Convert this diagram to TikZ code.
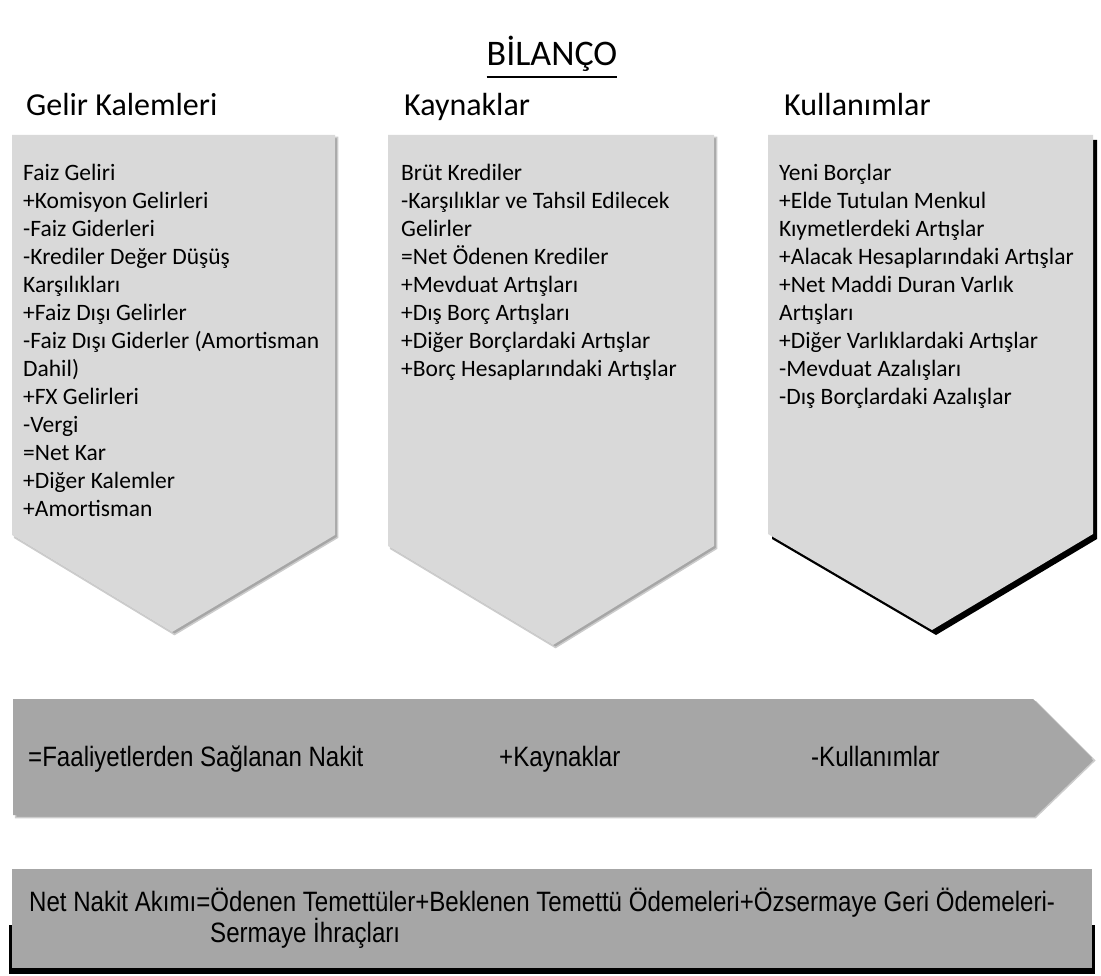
\documentclass[tikz,border=0pt]{standalone}
\usepackage{fontspec}
\usepackage{xcolor}
\newfontfamily\calfont{Carlito}
\newfontfamily\arialfont[FakeStretch=0.86]{Liberation Sans}
\definecolor{lightpanel}{HTML}{D9D9D9}
\definecolor{darkpanel}{HTML}{A6A6A6}

\begin{document}
\begin{tikzpicture}[x=1pt, y=-1pt,
    softshadow/.style={fill=gray!70, draw=gray!40, line width=1.5pt, shift={(2.5,2.5)}},
    hardshadow/.style={fill=black, shift={(4,5)}},
    titletext/.style={anchor=base, inner sep=0pt, font=\calfont\fontsize{36}{40}\selectfont},
    headtext/.style={anchor=base west, inner sep=0pt, font=\calfont\fontsize{32}{36}\selectfont},
    listtext/.style={anchor=north west, align=left, inner sep=0pt, font=\calfont\fontsize{23.5}{28}\selectfont},
    flowtext/.style={anchor=base west, inner sep=0pt, align=left, font=\arialfont\fontsize{28}{31.5}\selectfont}]
  \useasboundingbox (0,0) rectangle (1101,976);

  % title and column heads
  \node[titletext] (title) at (552,66) {BİLANÇO};
  \draw[line width=2.6pt] ([yshift=-11pt]title.base west) -- ([yshift=-11pt]title.base east);
  \node[headtext] (gelirhead) at (26,116) {Gelir Kalemleri};
  \node[headtext] (kaynakhead) at (404,116) {Kaynaklar};
  \node[headtext] (kullanhead) at (784,116) {Kullanımlar};

  % three panels
  \fill[softshadow] (12,135) -- (335,135) -- (335,535) -- (172,632) -- (12,535) -- cycle;
  \fill[lightpanel] (12,135) -- (335,135) -- (335,535) -- (172,632) -- (12,535) -- cycle;
  \fill[softshadow] (388,135) -- (714,135) -- (714,546) -- (553,645) -- (388,546) -- cycle;
  \fill[lightpanel] (388,135) -- (714,135) -- (714,546) -- (553,645) -- (388,546) -- cycle;
  \fill[hardshadow] (768,135) -- (1093,135) -- (1093,534) -- (932,630) -- (768,534) -- cycle;
  \fill[lightpanel] (768,135) -- (1093,135) -- (1093,534) -- (932,630) -- (768,534) -- cycle;

  \node[listtext] (gelir) at (23,164) {Faiz Geliri\\+Komisyon Gelirleri\\-Faiz Giderleri\\
    -Krediler Değer Düşüş\\Karşılıkları\\+Faiz Dışı Gelirler\\-Faiz Dışı Giderler (Amortisman\\
    Dahil)\\+FX Gelirleri\\-Vergi\\=Net Kar\\+Diğer Kalemler\\+Amortisman};
  \node[listtext] (kaynak) at (401,164) {Brüt Krediler\\-Karşılıklar ve Tahsil Edilecek\\Gelirler\\
    =Net Ödenen Krediler\\+Mevduat Artışları\\+Dış Borç Artışları\\+Diğer Borçlardaki Artışlar\\
    +Borç Hesaplarındaki Artışlar};
  \node[listtext] (kullan) at (779,164) {Yeni Borçlar\\+Elde Tutulan Menkul\\Kıymetlerdeki Artışlar\\
    +Alacak Hesaplarındaki Artışlar\\+Net Maddi Duran Varlık\\Artışları\\+Diğer Varlıklardaki Artışlar\\
    -Mevduat Azalışları\\-Dış Borçlardaki Azalışlar};

  % flow arrow
  \fill[softshadow] (13,699) -- (1033,699) -- (1092,758) -- (1033,815) -- (13,815) -- cycle;
  \fill[darkpanel] (13,699) -- (1033,699) -- (1092,758) -- (1033,815) -- (13,815) -- cycle;
  \node[flowtext] (faaliyet) at (28,766) {=Faaliyetlerden Sağlanan Nakit};
  \node[flowtext] (artikaynak) at (499,766) {+Kaynaklar};
  \node[flowtext] (eksikullan) at (811,766) {-Kullanımlar};

  % net cash box
  \fill[black] (9,925) rectangle (1095,974);
  \fill[darkpanel] (12,869) rectangle (1092,968);
  \node[flowtext] (netnakit) at (29,911) {Net Nakit Akımı=Ödenen Temettüler+Beklenen Temettü Ödemeleri+Özsermaye Geri Ödemeleri-};
  \node[flowtext] (ihrac) at (210,942) {Sermaye İhraçları};
\end{tikzpicture}
\end{document}
